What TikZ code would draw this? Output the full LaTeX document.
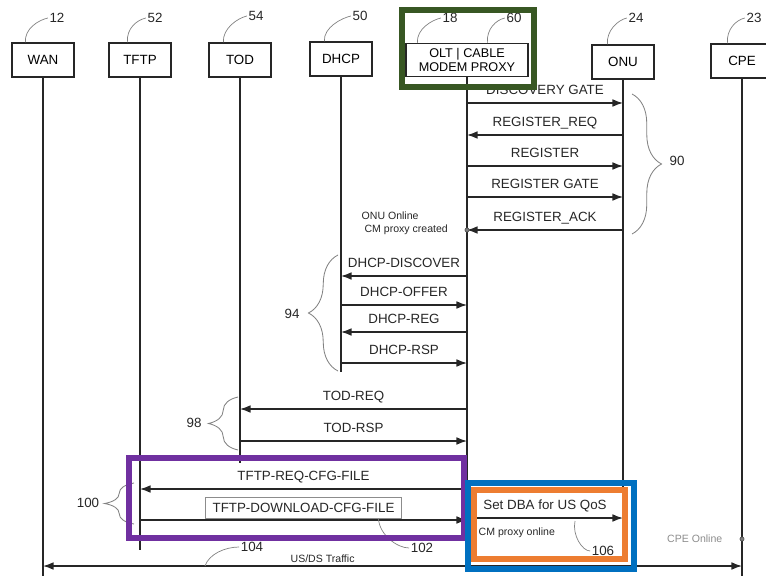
\documentclass[tikz,border=0pt]{standalone}
\usepackage{fontspec}
\setmainfont{Liberation Sans}
\usetikzlibrary{arrows.meta,calc,decorations.pathreplacing}
\definecolor{hlgreen}{RGB}{56,87,35}
\definecolor{hlpurple}{RGB}{112,48,160}
\definecolor{hlblue}{RGB}{0,112,192}
\definecolor{hlorange}{RGB}{237,125,49}
\definecolor{leadgray}{RGB}{130,130,130}

\begin{document}
\begin{tikzpicture}[x=0.025cm, y=-0.025cm,
  head/.style={draw=black!85, line width=0.9pt, minimum width=1.55cm,
               minimum height=0.85cm, align=center,
               font=\fontsize{9.5}{11}\selectfont},
  life/.style={black!85, line width=0.9pt},
  msg/.style={black!85, line width=0.9pt},
  tor/.style={-{Latex[length=7.5pt,width=5.5pt]}},
  tol/.style={{Latex[length=7.5pt,width=5.5pt]}-},
  lbl/.style={above=2.5pt, inner sep=1pt, text height=7pt, text depth=2pt,
              font=\fontsize{9.5}{11}\selectfont, text=black!85},
  num/.style={inner sep=1pt, font=\fontsize{9.5}{11}\selectfont, text=black!85},
  small/.style={inner sep=1pt, font=\fontsize{7.5}{9.2}\selectfont, text=black!85},
  lead/.style={leadgray, line width=0.5pt},
  grp/.style={leadgray, line width=0.6pt, decorate,
              decoration={brace, amplitude=21pt}},
  dot/.style={circle, draw=black!70, fill=gray, inner sep=0pt, minimum size=3pt},
  hl/.style={line width=3.6pt}
]
  \useasboundingbox (0,0) rectangle (766,576);

  % entities
  \node[head] (wan) at (43,60) {WAN};
  \node[head] (tftp) at (140,60) {TFTP};
  \node[head] (tod) at (240,60) {TOD};
  \node[head] (dhcp) at (341,59) {DHCP};
  \node[head, minimum width=3.05cm, minimum height=0.8cm,
        font=\fontsize{9}{10}\selectfont] (olt) at (467,60) {OLT | CABLE\\MODEM PROXY};
  \node[head] (onu) at (623,62) {ONU};
  \node[head] (cpe) at (742,61) {CPE};

  % reference numerals
  \foreach \nd/\dx/\n/\lx/\ly in {wan/14/12/57/18, tftp/19/52/155/18,
      tod/15/54/256/16, dhcp/15/50/360/16, olt/12/18/450/18, olt/82/60/514/18,
      onu/16/24/636/18, cpe/17/23/754/18} {
    \node[num] (n\n) at (\lx,\ly) {\n};
    \draw[lead] ($(\nd.north west)+(\dx,0)$) .. controls +(-1,-14) and +(-9,2) .. (n\n.west);
  }

  % lifelines
  \foreach \nd/\yend in {wan/576, tftp/550, tod/463, dhcp/372, olt/534, onu/550, cpe/576}
    \draw[life] (\nd) -- (\nd |- 0,\yend);

  % registration
  \foreach \y/\dir/\txt in {103/tor/DISCOVERY GATE, 135/tol/REGISTER\_REQ,
      166/tor/REGISTER, 197/tor/REGISTER GATE, 230/tol/REGISTER\_ACK}
    \draw[msg,\dir] (olt |- 0,\y) -- node[lbl] {\txt} (onu |- 0,\y);
  \node[dot] (d1) at (olt |- 0,230) {};
  \node[small, align=left, anchor=west] (onuon) at (360,223) {ONU Online\\\ CM proxy created};

  % dhcp
  \foreach \y/\dir/\txt in {276/tol/DHCP-DISCOVER, 305/tor/DHCP-OFFER,
      332/tol/DHCP-REG, 363/tor/DHCP-RSP}
    \draw[msg,\dir] (dhcp |- 0,\y) -- node[lbl] {\txt} (olt |- 0,\y);

  % tod
  \foreach \y/\dir/\txt in {409/tol/TOD-REQ, 441/tor/TOD-RSP}
    \draw[msg,\dir] (tod |- 0,\y) -- node[lbl] {\txt} (olt |- 0,\y);

  % tftp
  \draw[msg,tol] (tftp |- 0,489) -- node[lbl] {TFTP-REQ-CFG-FILE} (olt |- 0,489);
  \draw[msg,tor] (tftp |- 0,520) -- node[above=0.8pt, draw=black!45, line width=0.5pt,
        minimum width=4.9cm, minimum height=0.54cm, inner sep=1pt,
        font=\fontsize{9.5}{11}\selectfont, text=black!85] (dl) {TFTP-DOWNLOAD-CFG-FILE} (olt |- 0,520);

  % qos
  \draw[msg,tor] (olt |- 0,518) -- node[lbl] (dba) {Set DBA for US QoS} (onu |- 0,518);
  \node[dot] (d2) at (olt |- 0,532) {};
  \node[small, anchor=west] (cmon) at (477,533) {CM proxy online};
  \node[dot] (d3) at (cpe |- 0,539) {};
  \node[small, text=black!45, anchor=east] (cpeon) at (724,539) {CPE Online};

  % traffic
  \draw[msg,{Latex[length=7.5pt,width=5.5pt]}-{Latex[length=7.5pt,width=5.5pt]}]
    (wan |- 0,566) -- node[small, pos=0.4, above=1pt] (usds) {US/DS Traffic} (cpe |- 0,566);

  % groups
  \draw[grp] (632,94) -- (632,234);
  \node[num] (n90) at (677,161) {90};
  \draw[grp] (338,371) -- (338,255);
  \node[num] (n94) at (292,314) {94};
  \draw[grp] (238,450) -- (238,397);
  \node[num] (n98) at (194,423) {98};
  \draw[grp] (134,524) -- (134,483);
  \node[num] (n100) at (88,503) {100};

  % other numerals
  \node[num] (n102) at (422,548) {102};
  \draw[lead] ($(dl.south)+(75,0)$) .. controls +(1,16) and +(-12,0) .. (n102.west);
  \coordinate (t104) at (205,566);
  \node[num] (n104) at (252,547) {104};
  \draw[lead] (t104) .. controls +(4,-12) and +(-14,0) .. (n104.west);
  \coordinate (t106) at (575,521);
  \node[num] (n106) at (603,551) {106};
  \draw[lead] (t106) .. controls +(-3,14) and +(-8,0) .. (n106.west);

  % highlights
  \draw[hl, hlgreen] (402,10) rectangle (534,87);
  \draw[hl, hlpurple] (129,458) rectangle (464,538);
  \draw[hl, hlblue] (468,483) rectangle (634,569);
  \draw[hl, hlorange] (474,490) rectangle (625,559);
\end{tikzpicture}
\end{document}
